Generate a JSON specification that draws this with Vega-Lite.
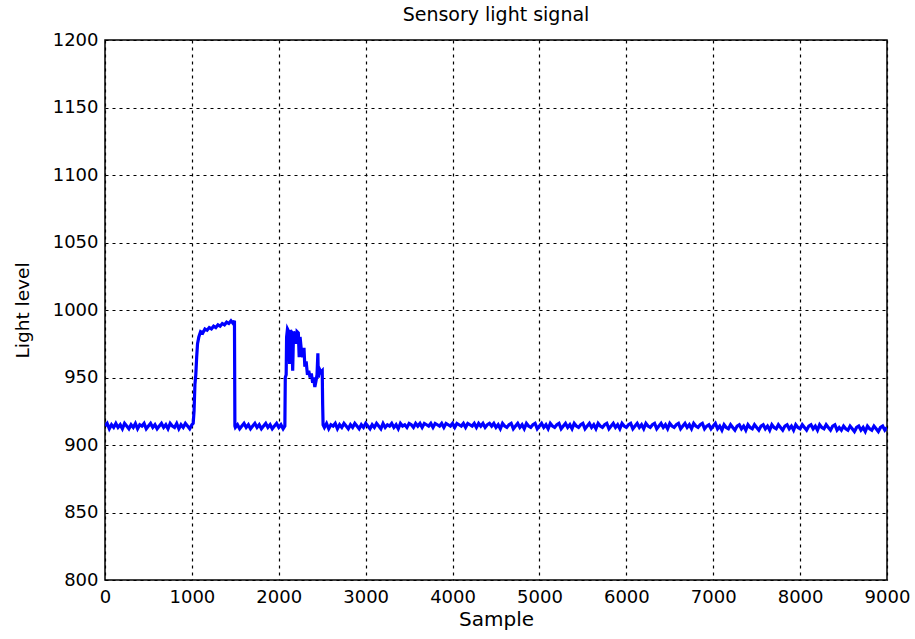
{
  "$schema": "https://vega.github.io/schema/vega-lite/v6.json",
  "width": 782,
  "height": 540,
  "autosize": {"type": "none"},
  "padding": {"left": 105, "top": 40, "right": 28, "bottom": 59},
  "background": "white",
  "title": {"text": "Sensory light signal", "font": "DejaVu Sans", "fontSize": 19, "fontWeight": "normal", "color": "black", "offset": 6},
  "config": {
    "view": {"stroke": "black", "strokeWidth": 1.5},
    "axis": {
      "labelFont": "DejaVu Sans", "labelFontSize": 18, "labelColor": "black",
      "titleFont": "DejaVu Sans", "titleFontWeight": "normal", "titleColor": "black",
      "grid": true, "gridColor": "black", "gridDash": [3, 4], "gridOpacity": 1, "gridWidth": 1.2,
      "domain": false, "ticks": false, "format": "d"
    }
  },
  "data": {"values": [
    {"x":0,"y":914},{"x":25,"y":916},{"x":50,"y":912},{"x":75,"y":915},{"x":100,"y":913},{"x":125,"y":916},{"x":150,"y":913},{"x":175,"y":915},{"x":200,"y":912},{"x":225,"y":916},
    {"x":250,"y":914},{"x":275,"y":912},{"x":300,"y":915},{"x":325,"y":913},{"x":350,"y":916},{"x":375,"y":912},{"x":400,"y":915},{"x":425,"y":914},{"x":450,"y":916},{"x":475,"y":912},
    {"x":500,"y":914},{"x":525,"y":916},{"x":550,"y":913},{"x":575,"y":915},{"x":600,"y":912},{"x":625,"y":914},{"x":650,"y":916},{"x":675,"y":913},{"x":700,"y":915},{"x":725,"y":912},
    {"x":750,"y":916},{"x":775,"y":914},{"x":800,"y":913},{"x":825,"y":916},{"x":850,"y":912},{"x":875,"y":915},{"x":900,"y":913},{"x":925,"y":916},{"x":950,"y":914},{"x":975,"y":912},
    {"x":1000,"y":915},{"x":1015,"y":916},{"x":1025,"y":925},{"x":1035,"y":945},{"x":1045,"y":952},{"x":1055,"y":965},{"x":1065,"y":975},{"x":1080,"y":980},{"x":1100,"y":984},{"x":1125,"y":983},
    {"x":1150,"y":986},{"x":1175,"y":985},{"x":1200,"y":987},{"x":1225,"y":986},{"x":1250,"y":988},{"x":1275,"y":987},{"x":1300,"y":989},{"x":1325,"y":988},{"x":1350,"y":990},{"x":1375,"y":989},
    {"x":1400,"y":991},{"x":1425,"y":990},{"x":1450,"y":992},{"x":1475,"y":990},{"x":1490,"y":992},{"x":1495,"y":914},
    {"x":1500,"y":913},{"x":1525,"y":915},{"x":1550,"y":912},{"x":1575,"y":914},{"x":1600,"y":916},{"x":1625,"y":913},{"x":1650,"y":915},{"x":1675,"y":912},{"x":1700,"y":914},{"x":1725,"y":916},
    {"x":1750,"y":913},{"x":1775,"y":915},{"x":1800,"y":912},{"x":1825,"y":914},{"x":1850,"y":916},{"x":1875,"y":913},{"x":1900,"y":915},{"x":1925,"y":912},{"x":1950,"y":914},{"x":1975,"y":916},
    {"x":2000,"y":913},{"x":2025,"y":915},{"x":2050,"y":912},{"x":2070,"y":914},
    {"x":2075,"y":950},{"x":2085,"y":952},{"x":2090,"y":980},{"x":2100,"y":986},{"x":2115,"y":984},{"x":2125,"y":960},{"x":2135,"y":985},{"x":2150,"y":983},{"x":2160,"y":955},{"x":2170,"y":984},
    {"x":2185,"y":982},{"x":2200,"y":975},{"x":2210,"y":984},{"x":2225,"y":983},{"x":2235,"y":965},{"x":2245,"y":980},{"x":2260,"y":970},{"x":2275,"y":965},{"x":2290,"y":972},{"x":2300,"y":958},
    {"x":2315,"y":962},{"x":2330,"y":952},{"x":2345,"y":955},{"x":2360,"y":950},{"x":2375,"y":953},{"x":2390,"y":946},{"x":2400,"y":950},{"x":2415,"y":943},{"x":2430,"y":948},{"x":2440,"y":952},
    {"x":2450,"y":968},{"x":2455,"y":950},{"x":2470,"y":956},{"x":2485,"y":954},{"x":2500,"y":955},{"x":2505,"y":930},{"x":2510,"y":915},
    {"x":2525,"y":913},{"x":2550,"y":916},{"x":2575,"y":912},{"x":2600,"y":915},{"x":2625,"y":914},{"x":2650,"y":916},{"x":2675,"y":912},{"x":2700,"y":915},{"x":2725,"y":913},{"x":2750,"y":916},
    {"x":2775,"y":914},{"x":2800,"y":912},{"x":2825,"y":915},{"x":2850,"y":913},{"x":2875,"y":916},{"x":2900,"y":914},{"x":2925,"y":912},{"x":2950,"y":915},{"x":2975,"y":913},{"x":3000,"y":916},
    {"x":3025,"y":914},{"x":3050,"y":912},{"x":3075,"y":915},{"x":3100,"y":913},{"x":3125,"y":916},{"x":3150,"y":914},{"x":3175,"y":912},{"x":3200,"y":916},{"x":3225,"y":913},{"x":3250,"y":915},
    {"x":3275,"y":914},{"x":3300,"y":916},{"x":3325,"y":913},{"x":3350,"y":915},{"x":3375,"y":912},{"x":3400,"y":916},{"x":3425,"y":914},{"x":3450,"y":915},{"x":3475,"y":913},{"x":3500,"y":916},
    {"x":3525,"y":915},{"x":3550,"y":913},{"x":3575,"y":916},{"x":3600,"y":914},{"x":3625,"y":916},{"x":3650,"y":913},{"x":3675,"y":916},{"x":3700,"y":915},{"x":3725,"y":914},{"x":3750,"y":916},
    {"x":3775,"y":913},{"x":3800,"y":916},{"x":3825,"y":915},{"x":3850,"y":914},{"x":3875,"y":916},{"x":3900,"y":913},{"x":3925,"y":916},{"x":3950,"y":915},{"x":3975,"y":914},{"x":4000,"y":916},
    {"x":4025,"y":913},{"x":4050,"y":916},{"x":4075,"y":915},{"x":4100,"y":914},{"x":4125,"y":916},{"x":4150,"y":913},{"x":4175,"y":916},{"x":4200,"y":915},{"x":4225,"y":914},{"x":4250,"y":916},
    {"x":4275,"y":913},{"x":4300,"y":916},{"x":4325,"y":914},{"x":4350,"y":916},{"x":4375,"y":913},{"x":4400,"y":915},{"x":4425,"y":916},{"x":4450,"y":914},{"x":4475,"y":916},{"x":4500,"y":913},
    {"x":4525,"y":915},{"x":4550,"y":912},{"x":4575,"y":916},{"x":4600,"y":914},{"x":4625,"y":913},{"x":4650,"y":915},{"x":4675,"y":916},{"x":4700,"y":912},{"x":4725,"y":914},{"x":4750,"y":916},
    {"x":4775,"y":913},{"x":4800,"y":915},{"x":4825,"y":912},{"x":4850,"y":916},{"x":4875,"y":914},{"x":4900,"y":913},{"x":4925,"y":915},{"x":4950,"y":916},{"x":4975,"y":912},{"x":5000,"y":914},
    {"x":5025,"y":916},{"x":5050,"y":913},{"x":5075,"y":915},{"x":5100,"y":912},{"x":5125,"y":916},{"x":5150,"y":914},{"x":5175,"y":913},{"x":5200,"y":915},{"x":5225,"y":916},{"x":5250,"y":912},
    {"x":5275,"y":914},{"x":5300,"y":916},{"x":5325,"y":913},{"x":5350,"y":915},{"x":5375,"y":912},{"x":5400,"y":916},{"x":5425,"y":914},{"x":5450,"y":913},{"x":5475,"y":915},{"x":5500,"y":916},
    {"x":5525,"y":912},{"x":5550,"y":914},{"x":5575,"y":916},{"x":5600,"y":913},{"x":5625,"y":915},{"x":5650,"y":912},{"x":5675,"y":916},{"x":5700,"y":914},{"x":5725,"y":913},{"x":5750,"y":915},
    {"x":5775,"y":916},{"x":5800,"y":912},{"x":5825,"y":914},{"x":5850,"y":916},{"x":5875,"y":913},{"x":5900,"y":915},{"x":5925,"y":912},{"x":5950,"y":916},{"x":5975,"y":914},{"x":6000,"y":913},
    {"x":6025,"y":915},{"x":6050,"y":916},{"x":6075,"y":912},{"x":6100,"y":914},{"x":6125,"y":916},{"x":6150,"y":913},{"x":6175,"y":915},{"x":6200,"y":912},{"x":6225,"y":916},{"x":6250,"y":914},
    {"x":6275,"y":913},{"x":6300,"y":915},{"x":6325,"y":916},{"x":6350,"y":912},{"x":6375,"y":914},{"x":6400,"y":916},{"x":6425,"y":913},{"x":6450,"y":915},{"x":6475,"y":912},{"x":6500,"y":916},
    {"x":6525,"y":914},{"x":6550,"y":913},{"x":6575,"y":915},{"x":6600,"y":916},{"x":6625,"y":912},{"x":6650,"y":914},{"x":6675,"y":916},{"x":6700,"y":913},{"x":6725,"y":915},{"x":6750,"y":912},
    {"x":6775,"y":916},{"x":6800,"y":914},{"x":6825,"y":913},{"x":6850,"y":915},{"x":6875,"y":916},{"x":6900,"y":912},{"x":6925,"y":914},{"x":6950,"y":915},{"x":6975,"y":912},{"x":7000,"y":914},
    {"x":7025,"y":916},{"x":7050,"y":912},{"x":7075,"y":914},{"x":7100,"y":911},{"x":7125,"y":915},{"x":7150,"y":913},{"x":7175,"y":912},{"x":7200,"y":915},{"x":7225,"y":913},{"x":7250,"y":911},
    {"x":7275,"y":914},{"x":7300,"y":915},{"x":7325,"y":912},{"x":7350,"y":914},{"x":7375,"y":911},{"x":7400,"y":915},{"x":7425,"y":913},{"x":7450,"y":912},{"x":7475,"y":915},{"x":7500,"y":913},
    {"x":7525,"y":911},{"x":7550,"y":914},{"x":7575,"y":915},{"x":7600,"y":912},{"x":7625,"y":914},{"x":7650,"y":911},{"x":7675,"y":915},{"x":7700,"y":913},{"x":7725,"y":912},{"x":7750,"y":915},
    {"x":7775,"y":913},{"x":7800,"y":911},{"x":7825,"y":914},{"x":7850,"y":915},{"x":7875,"y":912},{"x":7900,"y":914},{"x":7925,"y":911},{"x":7950,"y":915},{"x":7975,"y":913},{"x":8000,"y":912},
    {"x":8025,"y":915},{"x":8050,"y":913},{"x":8075,"y":911},{"x":8100,"y":914},{"x":8125,"y":915},{"x":8150,"y":912},{"x":8175,"y":914},{"x":8200,"y":911},{"x":8225,"y":915},{"x":8250,"y":913},
    {"x":8275,"y":912},{"x":8300,"y":915},{"x":8325,"y":913},{"x":8350,"y":911},{"x":8375,"y":914},{"x":8400,"y":915},{"x":8425,"y":911},{"x":8450,"y":913},{"x":8475,"y":911},{"x":8500,"y":914},
    {"x":8525,"y":912},{"x":8550,"y":911},{"x":8575,"y":914},{"x":8600,"y":912},{"x":8625,"y":910},{"x":8650,"y":913},{"x":8675,"y":914},{"x":8700,"y":911},{"x":8725,"y":913},{"x":8750,"y":910},
    {"x":8775,"y":914},{"x":8800,"y":912},{"x":8825,"y":911},{"x":8850,"y":914},{"x":8875,"y":912},{"x":8900,"y":910},{"x":8925,"y":913},{"x":8950,"y":914},{"x":8975,"y":911},{"x":9000,"y":913}
  ]},
  "mark": {"type": "line", "color": "#0000ff", "strokeWidth": 3.2, "clip": true},
  "encoding": {
    "x": {"field": "x", "type": "quantitative", "title": "Sample",
          "scale": {"domain": [0, 9000], "nice": false, "zero": false},
          "axis": {"values": [0,1000,2000,3000,4000,5000,6000,7000,8000,9000], "labelPadding": 8, "titlePadding": 3, "titleFontSize": 20, "labelFlush": false}},
    "y": {"field": "y", "type": "quantitative", "title": "Light level",
          "scale": {"domain": [800, 1200], "nice": false, "zero": false},
          "axis": {"values": [800,850,900,950,1000,1050,1100,1150,1200], "labelPadding": 7, "titlePadding": 20, "titleFontSize": 18.5}}
  }
}
